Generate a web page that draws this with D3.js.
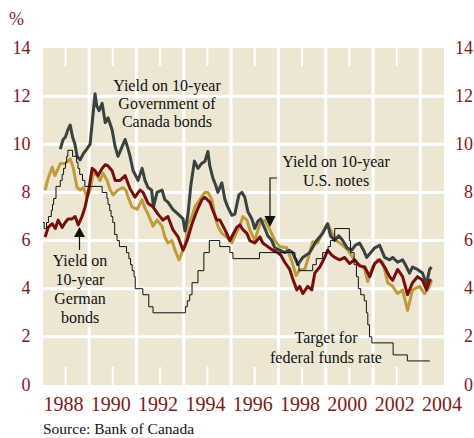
<!DOCTYPE html>
<html lang="en">
  <head>
    <meta charset="utf-8">
    <script src="https://cdn.jsdelivr.net/npm/d3@7"></script>
    <style>
      body { margin: 0; background: #fff; }
    </style>
  </head>
  <body>
    <script>
      // yields, per cent, [chart year, value]
      var canadaYield = [[1987.78,9.8],[1987.9,10.2],[1988.0,10.3],[1988.1,10.6],[1988.2,10.8],[1988.3,10.3],[1988.4,10.0],[1988.49,9.5],[1988.62,9.35],[1988.75,9.6],[1988.9,9.8],[1989.04,10.0],[1989.17,11.3],[1989.25,12.1],[1989.32,11.6],[1989.42,11.4],[1989.55,11.7],[1989.68,10.9],[1989.8,11.1],[1989.97,10.6],[1990.1,9.9],[1990.22,9.5],[1990.35,9.8],[1990.52,10.2],[1990.65,9.8],[1990.73,9.5],[1990.86,8.9],[1991.07,8.5],[1991.24,9.0],[1991.36,8.5],[1991.49,8.2],[1991.64,8.1],[1991.72,7.4],[1991.87,8.0],[1992.08,8.1],[1992.2,7.7],[1992.33,7.6],[1992.54,7.3],[1992.76,7.1],[1992.97,6.9],[1993.05,6.4],[1993.18,7.1],[1993.3,8.3],[1993.45,9.3],[1993.6,9.0],[1993.75,9.2],[1993.9,9.3],[1994.02,9.7],[1994.1,9.1],[1994.23,8.6],[1994.35,8.3],[1994.44,8.0],[1994.61,8.4],[1994.74,7.7],[1994.86,7.4],[1995.03,7.05],[1995.16,7.1],[1995.33,7.9],[1995.46,8.0],[1995.58,7.8],[1995.71,7.2],[1995.88,6.9],[1996.0,6.5],[1996.13,6.8],[1996.25,6.9],[1996.43,6.5],[1996.55,6.2],[1996.72,6.0],[1996.85,5.7],[1997.06,5.6],[1997.27,5.5],[1997.45,5.6],[1997.6,5.5],[1997.82,5.0],[1998.03,5.3],[1998.32,5.5],[1998.62,6.0],[1998.87,6.3],[1999.08,6.7],[1999.2,6.2],[1999.38,6.0],[1999.55,6.2],[1999.72,6.0],[1999.9,5.7],[2000.1,5.6],[2000.25,5.8],[2000.43,5.9],[2000.6,5.6],[2000.73,5.3],[2000.9,5.5],[2001.07,5.7],[2001.28,5.8],[2001.49,5.3],[2001.7,5.2],[2001.83,5.3],[2002.04,5.1],[2002.25,5.2],[2002.42,4.9],[2002.54,4.65],[2002.67,4.9],[2002.88,4.8],[2003.09,4.65],[2003.26,4.2],[2003.39,4.8],[2003.47,4.9]];

      var usYield = [[1987.14,8.1],[1987.27,8.6],[1987.44,9.05],[1987.55,8.7],[1987.65,8.9],[1987.78,9.2],[1987.99,9.2],[1988.2,9.4],[1988.32,9.05],[1988.49,8.2],[1988.62,8.1],[1988.75,8.2],[1988.92,7.8],[1989.04,8.1],[1989.17,8.8],[1989.34,8.7],[1989.46,8.5],[1989.59,8.8],[1989.76,8.5],[1989.89,8.1],[1990.01,7.9],[1990.22,8.1],[1990.43,8.2],[1990.55,8.1],[1990.65,7.8],[1990.81,7.4],[1991.03,7.3],[1991.24,7.7],[1991.36,7.35],[1991.49,7.1],[1991.7,6.6],[1991.87,6.85],[1992.08,6.6],[1992.2,6.15],[1992.33,5.9],[1992.5,6.0],[1992.63,5.6],[1992.8,5.2],[1992.92,5.5],[1993.05,5.75],[1993.18,6.7],[1993.35,7.0],[1993.47,7.4],[1993.68,7.7],[1993.89,8.0],[1994.02,8.0],[1994.19,7.7],[1994.32,7.0],[1994.44,6.6],[1994.61,6.3],[1994.82,6.15],[1995.03,5.9],[1995.16,6.2],[1995.37,6.6],[1995.5,7.0],[1995.67,6.85],[1995.79,6.45],[1996.0,6.0],[1996.22,6.7],[1996.43,6.85],[1996.64,6.45],[1996.85,6.0],[1997.06,5.75],[1997.35,5.7],[1997.58,5.1],[1997.75,4.55],[1997.9,4.8],[1998.11,4.8],[1998.24,5.2],[1998.45,5.95],[1998.66,5.9],[1998.87,6.35],[1999.08,6.7],[1999.25,6.35],[1999.46,6.0],[1999.72,5.8],[1999.93,5.6],[2000.14,5.3],[2000.35,5.05],[2000.56,4.9],[2000.65,4.8],[2000.77,4.3],[2000.98,4.9],[2001.19,5.2],[2001.41,5.1],[2001.62,4.25],[2001.83,4.1],[2002.04,3.8],[2002.25,3.95],[2002.46,3.1],[2002.67,3.95],[2002.97,4.1],[2003.18,3.8],[2003.39,4.1],[2003.47,4.35]];

      var germanYield = [[1987.14,6.15],[1987.27,6.55],[1987.44,6.7],[1987.57,6.5],[1987.69,6.85],[1987.86,6.55],[1987.99,6.75],[1988.11,6.9],[1988.28,6.9],[1988.41,7.0],[1988.54,6.65],[1988.7,7.0],[1988.83,7.4],[1988.96,8.0],[1989.04,8.45],[1989.13,9.0],[1989.25,8.9],[1989.38,8.7],[1989.55,9.0],[1989.68,9.15],[1989.8,9.1],[1989.97,8.9],[1990.1,8.5],[1990.31,8.5],[1990.52,8.7],[1990.73,8.15],[1990.94,7.8],[1991.15,8.1],[1991.28,8.0],[1991.49,7.55],[1991.7,7.4],[1991.91,7.1],[1992.12,6.85],[1992.33,7.0],[1992.54,6.45],[1992.76,6.15],[1992.97,5.6],[1993.14,6.0],[1993.35,6.7],[1993.56,7.25],[1993.77,7.7],[1993.89,7.8],[1994.1,7.6],[1994.23,7.25],[1994.4,6.85],[1994.53,6.85],[1994.74,6.45],[1994.95,6.0],[1995.08,6.25],[1995.24,6.55],[1995.37,6.65],[1995.5,6.45],[1995.67,6.3],[1995.79,6.0],[1996.0,5.9],[1996.22,6.15],[1996.34,5.9],[1996.55,5.75],[1996.76,5.6],[1996.97,5.5],[1997.1,5.4],[1997.27,5.1],[1997.48,4.8],[1997.61,4.4],[1997.78,3.95],[1997.9,4.1],[1998.03,3.8],[1998.24,4.1],[1998.41,3.95],[1998.54,4.65],[1998.75,4.9],[1998.96,5.3],[1999.08,5.6],[1999.25,5.4],[1999.38,5.3],[1999.59,5.2],[1999.8,5.3],[2000.01,5.05],[2000.22,5.2],[2000.43,4.95],[2000.65,4.9],[2000.86,4.5],[2001.07,5.05],[2001.28,5.2],[2001.49,4.9],[2001.7,4.5],[2001.83,4.35],[2002.04,4.8],[2002.25,4.5],[2002.46,3.75],[2002.67,4.25],[2002.88,4.5],[2003.09,4.35],[2003.26,3.95],[2003.39,4.35],[2003.47,4.35]];

      // target for federal funds rate, step changes
      var fedFunds = [[1987.05,6.75],[1987.1,6.5],[1987.2,6.75],[1987.28,7.0],[1987.4,7.25],[1987.45,7.5],[1987.5,7.75],[1987.6,8.25],[1987.78,8.5],[1987.86,8.75],[1987.92,9.0],[1988.0,9.25],[1988.05,9.5],[1988.1,9.75],[1988.3,9.5],[1988.47,9.25],[1988.53,9.0],[1988.6,8.75],[1988.72,8.5],[1988.82,8.25],[1989.55,8.0],[1989.75,7.75],[1989.8,7.5],[1989.87,7.25],[1989.93,7.0],[1990.0,6.75],[1990.08,6.25],[1990.18,6.0],[1990.28,5.75],[1990.58,5.5],[1990.68,5.25],[1990.75,5.0],[1990.82,4.75],[1990.9,4.5],[1990.95,4.0],[1991.27,3.75],[1991.52,3.25],[1991.7,3.0],[1993.07,3.25],[1993.15,3.5],[1993.25,3.75],[1993.35,4.25],[1993.6,4.75],[1993.85,5.5],[1994.08,6.0],[1994.52,5.75],[1994.95,5.5],[1995.08,5.25],[1996.2,5.5],[1997.7,5.25],[1997.78,5.0],[1997.87,4.75],[1998.45,5.0],[1998.6,5.25],[1998.87,5.5],[1999.1,5.75],[1999.2,6.0],[1999.38,6.5],[2000.0,6.0],[2000.05,5.5],[2000.2,5.0],[2000.3,4.5],[2000.38,4.0],[2000.48,3.75],[2000.63,3.5],[2000.72,3.0],[2000.78,2.5],[2000.85,2.0],[2000.95,1.75],[2001.85,1.25],[2002.45,1.0],[2003.4,1.0]];

      var yearLabels = [1988, 1990, 1992, 1994, 1996, 1998, 2000, 2002, 2004];
      var gridYears = [1989, 1991, 1993, 1995, 1997, 1999, 2001, 2003];
      var yTicks = [0, 2, 4, 6, 8, 10, 12, 14];

      var w = 474, h = 438;
      var margin = {top: 48, left: 43, right: 30, bottom: 53};
      var red = "#7d1a1a";
      var serif = "'Liberation Serif', 'DejaVu Serif', serif";

      var svg = d3.select("body").append("svg")
        .attr("width", w)
        .attr("height", h)
        .attr("font-family", serif)
        .style("font-family", serif);

      var xscale = d3.scaleLinear()
        .domain([1987.05, 2004])
        .range([margin.left, w - margin.right]);
      var yscale = d3.scaleLinear()
        .domain([0, 14])
        .range([h - margin.bottom, margin.top]);

      // beige panel with white grid
      svg.append("rect")
        .attr("x", margin.left)
        .attr("y", margin.top)
        .attr("width", w - margin.right - margin.left)
        .attr("height", h - margin.bottom - margin.top)
        .attr("fill", "#ece6d3");

      svg.selectAll(".hgrid")
        .data(yTicks.slice(1, -1))
        .enter().append("line")
        .attr("x1", margin.left).attr("x2", w - margin.right)
        .attr("y1", function(d) { return yscale(d); })
        .attr("y2", function(d) { return yscale(d); })
        .attr("stroke", "#fff").attr("stroke-width", 3);

      svg.selectAll(".vgrid")
        .data(gridYears)
        .enter().append("line")
        .attr("x1", function(d) { return xscale(d); })
        .attr("x2", function(d) { return xscale(d); })
        .attr("y1", margin.top).attr("y2", h - margin.bottom)
        .attr("stroke", "#fff").attr("stroke-width", 3);

      // short ticks at labelled years, top and bottom
      var tickYears = yearLabels.slice(0, -1);
      [[margin.top, margin.top + 18], [h - margin.bottom - 18, h - margin.bottom]].forEach(function(span) {
        svg.selectAll(null)
          .data(tickYears)
          .enter().append("line")
          .attr("x1", function(d) { return xscale(d); })
          .attr("x2", function(d) { return xscale(d); })
          .attr("y1", span[0]).attr("y2", span[1])
          .attr("stroke", "#fff").attr("stroke-width", 2);
      });

      // lines
      var line = d3.line()
        .x(function(d) { return xscale(d[0]); })
        .y(function(d) { return yscale(d[1]); });
      var stepLine = d3.line()
        .x(function(d) { return xscale(d[0]); })
        .y(function(d) { return yscale(d[1]); })
        .curve(d3.curveStepAfter);

      var series = [
        {data: usYield, color: "#bf9b3c"},
        {data: canadaYield, color: "#38433f"},
        {data: germanYield, color: "#780d0d"}
      ];
      series.forEach(function(s) {
        svg.append("path")
          .datum(s.data)
          .attr("d", line)
          .attr("fill", "none")
          .attr("stroke", s.color)
          .attr("stroke-width", 3)
          .attr("stroke-linejoin", "round");
      });

      svg.append("path")
        .datum(fedFunds)
        .attr("d", stepLine)
        .attr("fill", "none")
        .attr("stroke", "#111")
        .attr("stroke-width", 1);

      // axis labels, both sides
      svg.selectAll(".ylabL")
        .data(yTicks)
        .enter().append("text")
        .attr("x", 30.5)
        .attr("y", function(d) { return yscale(d) + 5.5; })
        .attr("text-anchor", "end")
        .attr("font-size", 18)
        .attr("fill", red)
        .text(function(d) { return d; });
      svg.selectAll(".ylabR")
        .data(yTicks)
        .enter().append("text")
        .attr("x", 473)
        .attr("y", function(d) { return yscale(d) + 5.5; })
        .attr("text-anchor", "end")
        .attr("font-size", 18)
        .attr("fill", red)
        .text(function(d) { return d; });
      svg.append("text")
        .attr("x", 9).attr("y", 25)
        .attr("font-size", 18)
        .attr("fill", red)
        .text("%");

      svg.selectAll(".xlab")
        .data(yearLabels)
        .enter().append("text")
        .attr("x", function(d) { return xscale(d) - 2; })
        .attr("y", 411)
        .attr("text-anchor", "middle")
        .attr("font-size", 20)
        .attr("fill", red)
        .text(function(d) { return d; });

      // annotations
      function label(lines, cx, y0, step) {
        var t = svg.append("text")
          .attr("text-anchor", "middle")
          .attr("font-size", 16)
          .attr("fill", "#111");
        lines.forEach(function(s, i) {
          t.append("tspan").attr("x", cx).attr("y", y0 + i * step).text(s);
        });
      }
      label(["Yield on 10-year", "Government of", "Canada bonds"], 167, 90.5, 18);
      label(["Yield on 10-year", "U.S. notes"], 336, 167, 19);
      label(["Yield on", "10-year", "German", "bonds"], 80, 266, 18.9);
      label(["Target for", "federal funds rate"], 326, 343, 19.5);

      // arrow to U.S. notes
      svg.append("path")
        .attr("d", "M277,178 H270 V218")
        .attr("fill", "none").attr("stroke", "#111").attr("stroke-width", 1.2);
      svg.append("path")
        .attr("d", "M264.5,216 L275.5,216 L270,227 Z")
        .attr("fill", "#111");

      // arrow to German bonds
      svg.append("path")
        .attr("d", "M79.5,235 V250")
        .attr("fill", "none").attr("stroke", "#111").attr("stroke-width", 1.2);
      svg.append("path")
        .attr("d", "M74,237 L85,237 L79.5,227 Z")
        .attr("fill", "#111");

      svg.append("text")
        .attr("x", 43).attr("y", 434)
        .attr("font-size", 15.5)
        .attr("fill", "#111")
        .text("Source: Bank of Canada");
    </script>
  </body>
</html>
